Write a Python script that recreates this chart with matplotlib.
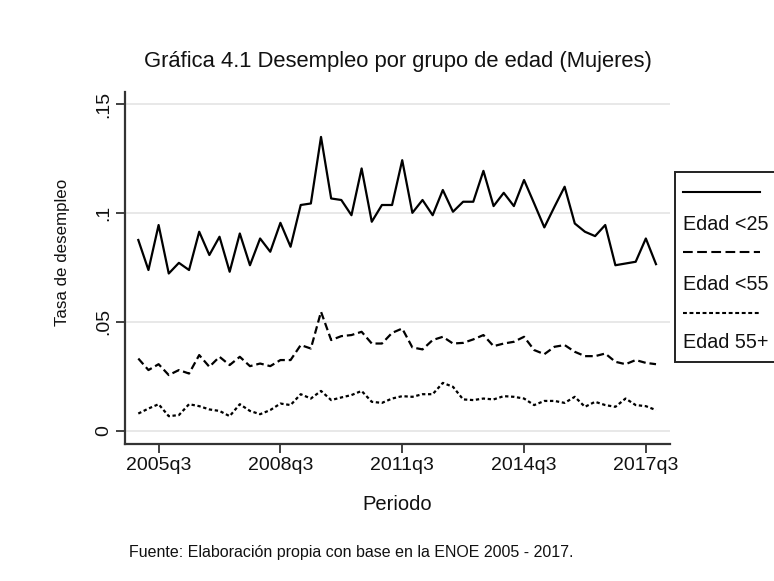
import matplotlib
matplotlib.use("Agg")
import matplotlib.pyplot as plt
from matplotlib.lines import Line2D
from matplotlib.patches import Rectangle

plt.rcParams['font.family'] = ['Liberation Sans', 'DejaVu Sans']
plt.rcParams['lines.scale_dashes'] = False

# ---- data (quarterly, 2005q1 .. 2017q4) ----
years = list(range(2005, 2018))
periods = [f"{y}q{q}" for y in years for q in (1, 2, 3, 4)]

edad_25 = [0.0876, 0.0738, 0.0945, 0.0722, 0.0771, 0.0738, 0.0914, 0.0807,
           0.0891, 0.0730, 0.0906, 0.0760, 0.0883, 0.0822, 0.0955, 0.0845,
           0.1037, 0.1044, 0.1350, 0.1067, 0.1060, 0.0990, 0.1205, 0.0960,
           0.1037, 0.1037, 0.1243, 0.1001, 0.1060, 0.0990, 0.1106, 0.1006,
           0.1052, 0.1052, 0.1194, 0.1032, 0.1093, 0.1032, 0.1152, 0.1044,
           0.0934, 0.1029, 0.1121, 0.0952, 0.0914, 0.0894, 0.0945, 0.0760,
           0.0768, 0.0776, 0.0883, 0.0765]

edad_55 = [0.0331, 0.0278, 0.0305, 0.0255, 0.0278, 0.0262, 0.0347, 0.0293,
           0.0339, 0.0301, 0.0339, 0.0296, 0.0308, 0.0296, 0.0324, 0.0324,
           0.0393, 0.0377, 0.0546, 0.0416, 0.0434, 0.0439, 0.0454, 0.0400,
           0.0400, 0.0449, 0.0469, 0.0382, 0.0373, 0.0416, 0.0431, 0.0400,
           0.0403, 0.0419, 0.0439, 0.0388, 0.0400, 0.0408, 0.0431, 0.0370,
           0.0351, 0.0385, 0.0393, 0.0362, 0.0342, 0.0342, 0.0354, 0.0316,
           0.0305, 0.0324, 0.0311, 0.0305]

edad_55mas = [0.0078, 0.0101, 0.0121, 0.0066, 0.0071, 0.0121, 0.0112, 0.0097,
              0.0090, 0.0066, 0.0121, 0.0090, 0.0075, 0.0094, 0.0124, 0.0117,
              0.0167, 0.0147, 0.0182, 0.0140, 0.0152, 0.0163, 0.0182, 0.0132,
              0.0127, 0.0147, 0.0158, 0.0155, 0.0167, 0.0167, 0.0219, 0.0201,
              0.0143, 0.0140, 0.0147, 0.0143, 0.0158, 0.0155, 0.0147, 0.0117,
              0.0136, 0.0136, 0.0127, 0.0155, 0.0109, 0.0132, 0.0117, 0.0109,
              0.0147, 0.0117, 0.0112, 0.0094]

series_labels = ["Edad <25", "Edad <55", "Edad 55+"]
x_tick_labels = ["2005q3", "2008q3", "2011q3", "2014q3", "2017q3"]
y_ticks = [0, 0.05, 0.10, 0.15]
y_tick_labels = ["0", ".05", ".1", ".15"]

# ---- figure ----
W, H = 774, 581
fig = plt.figure(figsize=(W / 100, H / 100), dpi=100)
fig.patch.set_facecolor("white")

def fx(px):
    return px / W

def fy(py):
    return 1 - py / H

ax_l, ax_r, ax_t, ax_b = 125, 670, 91.7, 444
ax = fig.add_axes([fx(ax_l), fy(ax_b), fx(ax_r) - fx(ax_l), fy(ax_t) - fy(ax_b)])

x = list(range(len(periods)))
styles = [dict(linestyle="-"),
          dict(linestyle=(0, (5.5, 2.8))),
          dict(linestyle=(0, (2.4, 1.9)))]
for vals, st in zip([edad_25, edad_55, edad_55mas], styles):
    ax.plot(x, vals, color="black", linewidth=1.6, **st)

ax.set_xlim(-1.31, 52.38)
ax.set_ylim(-0.0062, 0.1558)

ax.set_xticks([periods.index(p) for p in x_tick_labels])
ax.set_xticklabels(x_tick_labels, fontsize=14, color="#111111")
ax.set_yticks(y_ticks)
ax.set_yticklabels(y_tick_labels, fontsize=14, rotation=90, va="center",
                   color="#111111")

ax.grid(axis="y", color="#e6e6e6", linewidth=1.3)
ax.set_axisbelow(True)
for s in ("top", "right"):
    ax.spines[s].set_visible(False)
for s in ("left", "bottom"):
    ax.spines[s].set_color("#333333")
    ax.spines[s].set_linewidth(1.6)
ax.tick_params(axis="both", direction="out", length=6.5, width=1.3,
               color="#333333")
ax.tick_params(axis="x", pad=3)
ax.tick_params(axis="y", pad=3)

# ---- texts ----
fig.text(fx(398), fy(62), "Gráfica 4.1 Desempleo por grupo de edad (Mujeres)",
         ha="center", va="center", fontsize=15.8, color="#111111")
fig.text(fx(63), fy(252), "Tasa de desempleo", rotation=90,
         ha="center", va="center", fontsize=12.2, color="#111111")
fig.text(fx(397), fy(505), "Periodo", ha="center", va="center",
         fontsize=14.5, color="#111111")
fig.text(fx(129), fy(552),
         "Fuente: Elaboración propia con base en la ENOE 2005 - 2017.",
         ha="left", va="center", fontsize=11.5, color="#111111")

# ---- legend (Stata style: key above label) ----
fig.add_artist(Rectangle((fx(674.5), fy(361.7)), fx(774 + 20) - fx(674.5),
                         fy(171.7) - fy(361.7), transform=fig.transFigure,
                         facecolor="white", edgecolor="#222222",
                         linewidth=1.4, clip_on=False))
key_y = [192, 251.7, 312.7]
lab_y = [224.5, 285, 343]
legend_styles = [dict(linestyle="-"),
                 dict(linestyle=(0, (7.0, 3.2))),
                 dict(linestyle=(0, (2.8, 1.9)))]
for st, ky, ly, lab in zip(legend_styles, key_y, lab_y, series_labels):
    fig.add_artist(Line2D([fx(683), fx(760)], [fy(ky), fy(ky)],
                          transform=fig.transFigure, color="black",
                          linewidth=1.5, **st))
    fig.text(fx(683), fy(ly), lab, ha="left", va="center", fontsize=14.2,
             color="#111111")

fig.savefig("out.png", dpi=100, facecolor="white")
